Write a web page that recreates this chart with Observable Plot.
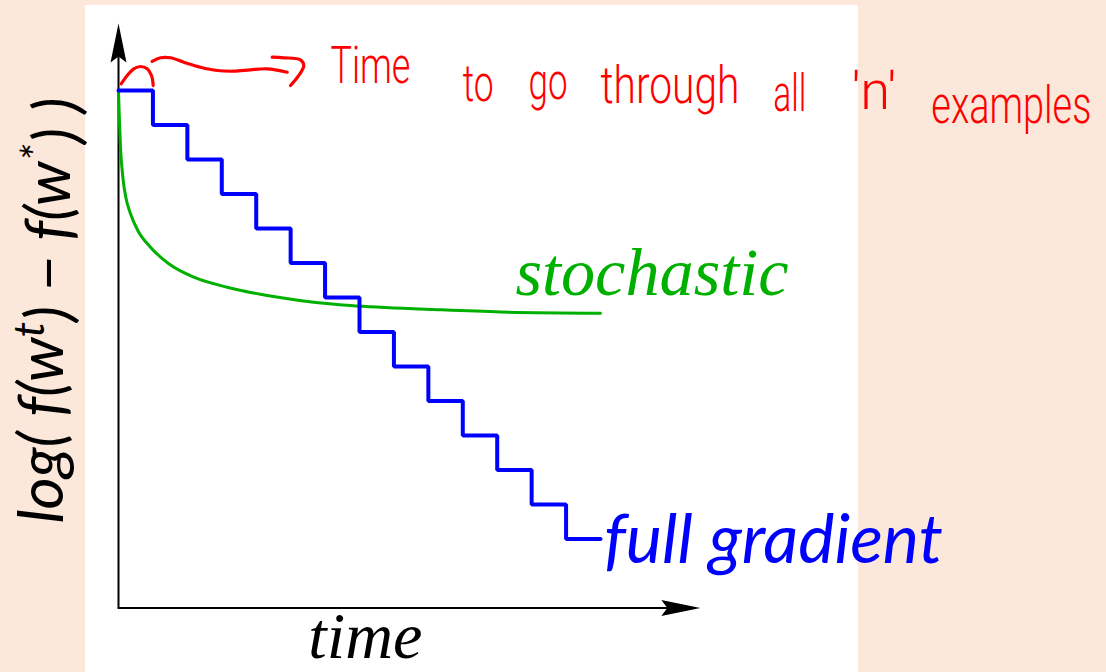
<!DOCTYPE html>
<html>
<head>
<meta charset="utf-8">
<script src="https://cdn.jsdelivr.net/npm/d3@7"></script>
<script src="https://cdn.jsdelivr.net/npm/@observablehq/plot@0.6"></script>
<style>
  html, body { margin: 0; padding: 0; width: 1106px; height: 672px; overflow: hidden; background: #fce8da; }
  #panel { position: absolute; left: 85px; top: 5px; width: 773px; height: 667px; background: #ffffff; }
  #chart { position: absolute; left: 0; top: 0; }
</style>
</head>
<body>
<div id="panel"></div>
<div id="chart"></div>
<script>
// ---- data (time in epochs, value = log suboptimality) ----
const epochs       = [0, 1, 2, 3, 4, 5, 6, 7, 8, 9, 10, 11, 12, 13, 14];
const fullGradient = [0, -1, -2, -3, -4, -5, -6, -7, -8, -9, -10, -11, -12, -13, -13];

const stochTime  = [0, 0.02, 0.058, 0.137, 0.212, 0.349, 0.561, 0.929, 1.461, 2.187, 3.157, 4.319, 5.672, 6.738, 9.149, 11.095, 14.0];
const stochValue = [0, -0.675, -1.643, -2.609, -3.093, -3.574, -4.058, -4.542, -5.023, -5.412, -5.701, -5.942, -6.136, -6.232, -6.348, -6.420, -6.455];

// axis extents (data units)
const axisOrigin = {time: 0, value: -15};
const xAxisEnd = 16.9;
const yAxisEnd = 1.94;

// labels
const yLabel = "log( f(wt) \u2212 f(w*) )";
const xLabel = "time";
const labelPos = [
  {text: "stochastic",    time: 11.53, value: -5.94},
  {text: "full gradient", time: 14.1,  value: -13.70}
];

// red hand-drawn annotation
const noteWords = [
  {text: "Time",     time: 6.157,  value: 0.203},
  {text: "to",       time: 10.0,   value: -0.29},
  {text: "go",       time: 11.91,  value: -0.232},
  {text: "through",  time: 14.0,   value: -0.348},
  {text: "all",      time: 19.02,  value: -0.58},
  {text: "'n'",      time: 21.29,  value: -0.522},
  {text: "examples", time: 23.61,  value: -0.928}
];
const noteStrokes = [
  // hump over the first epoch
  {s: 0, time: 0.078, value: 0.194}, {s: 0, time: 0.253, value: 0.435}, {s: 0, time: 0.444, value: 0.629},
  {s: 0, time: 0.639, value: 0.696}, {s: 0, time: 0.834, value: 0.629}, {s: 0, time: 0.958, value: 0.435},
  {s: 0, time: 1.008, value: 0.145},
  // wavy shaft
  {s: 1, time: 0.979, value: 0.841}, {s: 1, time: 1.220, value: 0.948}, {s: 1, time: 1.510, value: 0.948},
  {s: 1, time: 1.897, value: 0.820}, {s: 1, time: 2.382, value: 0.675}, {s: 1, time: 2.867, value: 0.580},
  {s: 1, time: 3.349, value: 0.559}, {s: 1, time: 3.834, value: 0.600}, {s: 1, time: 4.319, value: 0.629},
  {s: 1, time: 4.900, value: 0.530},
  // arrow head
  {s: 2, time: 4.464, value: 0.965}, {s: 2, time: 4.801, value: 0.948}, {s: 2, time: 5.286, value: 0.890},
  {s: 2, time: 5.382, value: 0.725}, {s: 2, time: 5.237, value: 0.435}, {s: 2, time: 4.996, value: 0.145}
];

// ---- build tables ----
const fullData  = epochs.map((t, i) => ({time: t, value: fullGradient[i]}));
const stochData = stochTime.map((t, i) => ({time: t, value: stochValue[i]}));

const GREEN = "#00b000", BLUE = "#0000ff", RED = "#ff0000";

const arrowHead = {
  draw(ctx) {
    ctx.moveTo(0, 0);
    ctx.lineTo(8, 39);
    ctx.lineTo(0, 33);
    ctx.lineTo(-8, 39);
    ctx.closePath();
  }
};

const svg = Plot.plot({
  width: 1106,
  height: 672,
  margin: 0,
  style: {background: "transparent", overflow: "visible"},
  x: {domain: [0, 14], range: [118, 600], axis: null},
  y: {domain: [0, -13], range: [90, 538.5], axis: null},
  marks: [
    // axes
    Plot.line([{time: axisOrigin.time, value: axisOrigin.value}, {time: xAxisEnd - 0.6, value: axisOrigin.value}],
      {x: "time", y: "value", stroke: "black", strokeWidth: 2}),
    Plot.line([{time: axisOrigin.time, value: axisOrigin.value}, {time: axisOrigin.time, value: yAxisEnd - 0.6}],
      {x: "time", y: "value", stroke: "black", strokeWidth: 2}),
    Plot.dot([{time: xAxisEnd, value: axisOrigin.value}], {x: "time", y: "value", symbol: arrowHead, fill: "black", stroke: "none", rotate: 90}),
    Plot.dot([{time: axisOrigin.time, value: yAxisEnd}], {x: "time", y: "value", symbol: arrowHead, fill: "black", stroke: "none"}),
    // series
    Plot.line(stochData, {x: "time", y: "value", stroke: GREEN, strokeWidth: 3, curve: "monotone-x"}),
    Plot.line(fullData, {x: "time", y: "value", stroke: BLUE, strokeWidth: 4, curve: "step-after", strokeLinejoin: "miter"}),
    // series labels
    Plot.text([labelPos[0]], {x: "time", y: "value", text: "text", fill: GREEN, fontFamily: "Liberation Serif", fontStyle: "italic", fontSize: 66, textAnchor: "start", lineAnchor: "bottom"}),
    Plot.text([labelPos[1]], {x: "time", y: "value", text: "text", fill: BLUE, fontFamily: "Lato", fontStyle: "italic", fontSize: 60, textAnchor: "start", lineAnchor: "bottom"}),
    // axis labels
    Plot.text([xLabel], {x: 7.17, y: -16.45, text: d => d, fill: "black", fontFamily: "Liberation Serif", fontStyle: "italic", fontSize: 64, textAnchor: "middle", lineAnchor: "bottom"}),
    Plot.text([yLabel], {x: -1.626, y: -6.377, text: d => d, rotate: -90, fill: "black", fontFamily: "Lato", fontStyle: "italic", fontSize: 54, textAnchor: "middle", lineAnchor: "bottom"}),
    // red annotation
    Plot.line(noteStrokes, {x: "time", y: "value", z: "s", stroke: RED, strokeWidth: 3.2, curve: "catmull-rom", strokeLinecap: "round", strokeLinejoin: "round"}),
    Plot.text(noteWords, {x: "time", y: "value", text: "text", fill: RED, fontFamily: "Roboto", fontWeight: 300, fontSize: 52, textAnchor: "start", lineAnchor: "bottom"})
  ]
});
document.getElementById("chart").append(svg);

// ---- post-processing: superscripts and width fitting ----
const fitWidths = new Map([
  ["stochastic", 273], ["full gradient", 339], ["time", 114], [yLabel, 426]
]);
const noteWidths = new Map([
  ["Time", 80], ["to", 31], ["go", 39], ["through", 139], ["all", 33], ["'n'", 45], ["examples", 160]
]);
d3.select(svg).selectAll("text").each(function() {
  const txt = this.textContent;
  if (txt === yLabel) {
    const el = d3.select(this);
    el.text(null);
    el.append("tspan").text("log( f(w");
    el.append("tspan").attr("dy", "-0.42em").attr("font-size", "0.7em").text("t");
    el.append("tspan").attr("dy", "0.42em").text(") \u2212 f(w");
    el.append("tspan").attr("dy", "-0.42em").attr("font-size", "0.7em").text("*");
    el.append("tspan").attr("dy", "0.42em").text(") )");
  }
  if (fitWidths.has(txt)) {
    const fs = parseFloat(getComputedStyle(this).fontSize);
    const w = this.getComputedTextLength();
    if (w > 0) this.style.fontSize = (fs * fitWidths.get(txt) / w) + "px";
  }
  if (noteWidths.has(txt)) {
    // squeeze the word horizontally (hand-written look) around its start point
    const w = this.getComputedTextLength();
    if (w > 0) {
      const sx = noteWidths.get(txt) / w;
      const tr = this.getAttribute("transform") || "";
      this.setAttribute("transform", (tr + " scale(" + sx + ",1)").trim());
    }
  }
});
</script>
</body>
</html>
